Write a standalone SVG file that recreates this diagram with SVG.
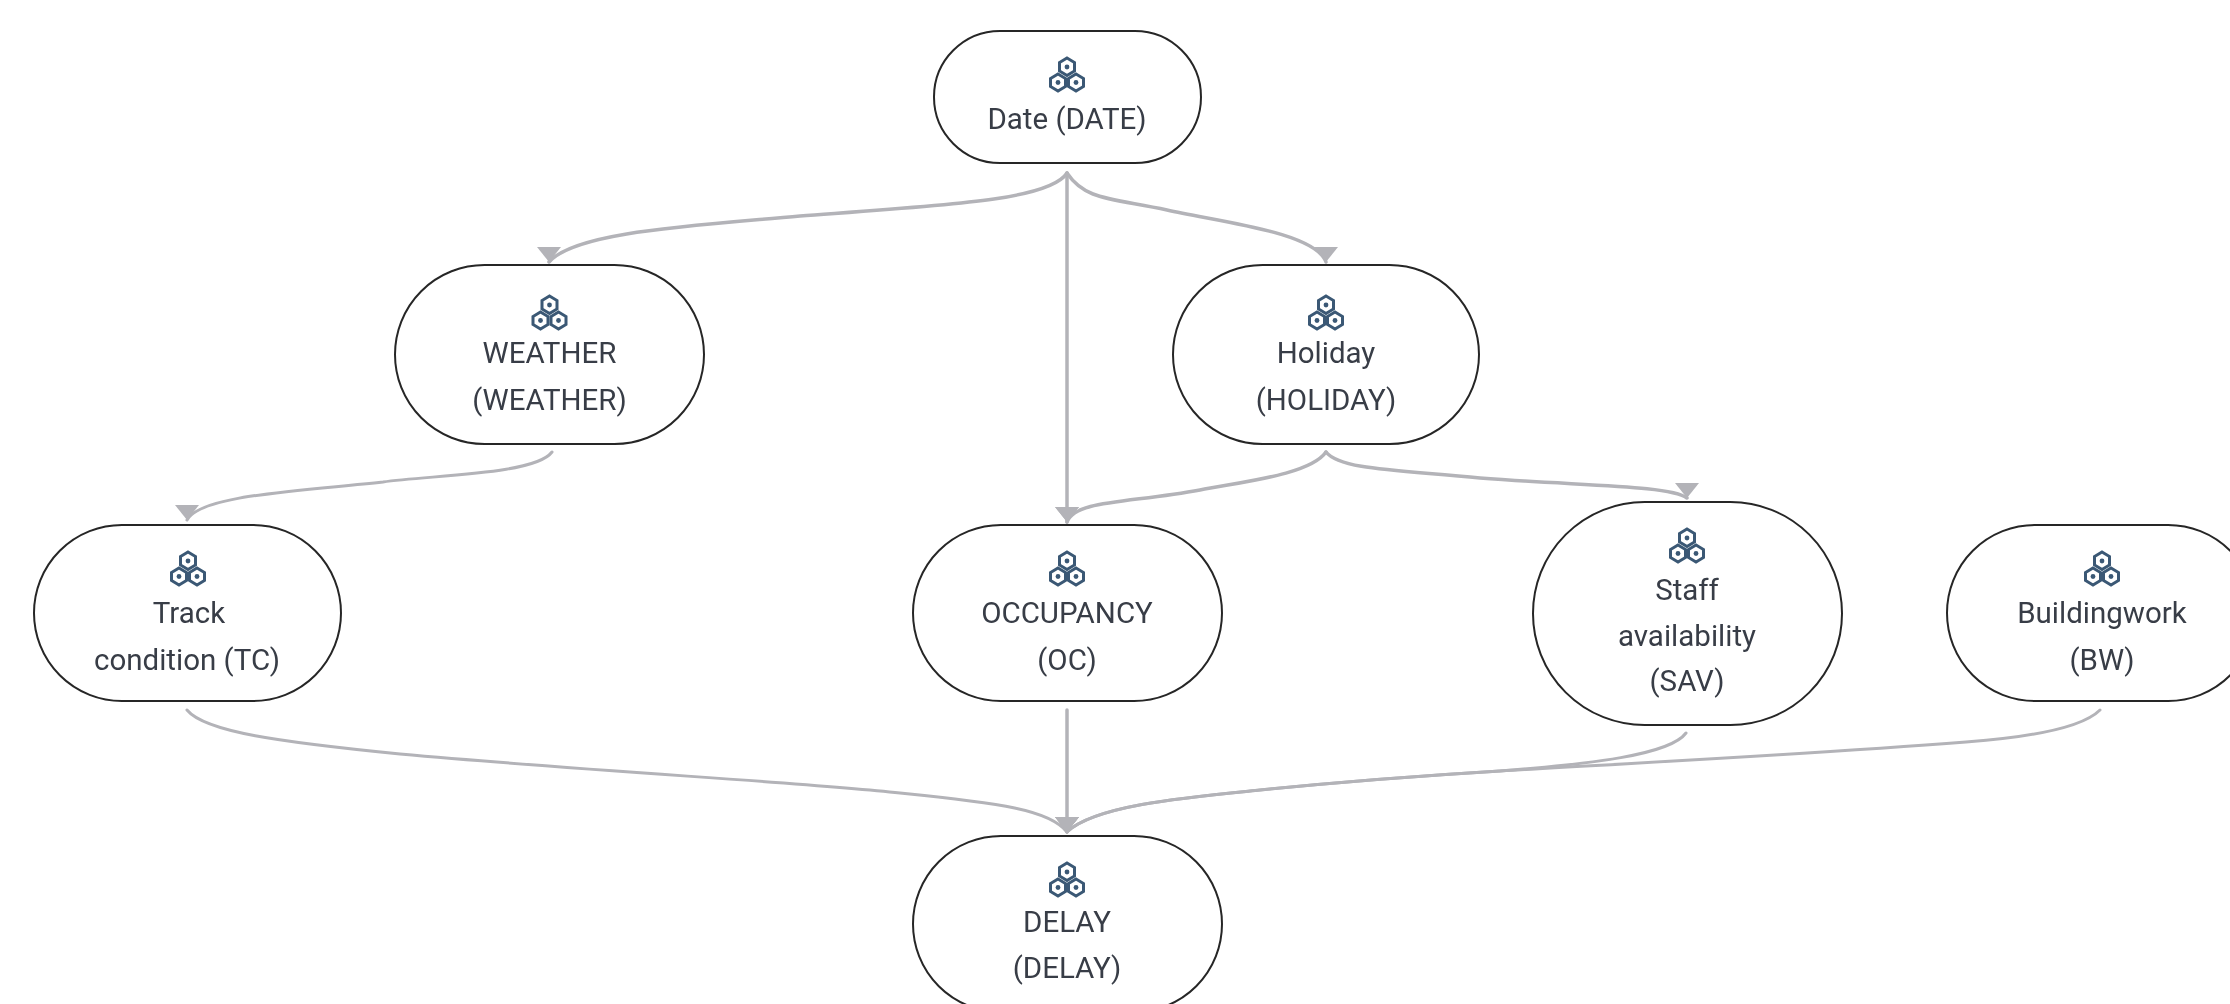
<svg xmlns="http://www.w3.org/2000/svg" width="2230" height="1004" viewBox="0 0 2230 1004">
<style>
.n{fill:#fff;stroke:#262626;stroke-width:2}
.t{font-family:Roboto,"Liberation Sans",sans-serif;font-size:29.5px;fill:#383d46;text-anchor:middle}
.e{fill:none;stroke:#b3b3b8;stroke-width:3.5;stroke-linecap:round}
.e2{stroke-width:3}
.i{fill:#fff;stroke:#3a5874;stroke-width:3}
.d{fill:#3a5874}
</style>
<defs>
<filter id="soft" x="0" y="0" width="2230" height="1004" filterUnits="userSpaceOnUse"><feGaussianBlur stdDeviation="0.7"/></filter>
<marker id="ah" markerUnits="userSpaceOnUse" markerWidth="17" markerHeight="28" refX="15" refY="13" orient="90"><polygon points="0,1 0,25 15,13" fill="#b3b3b8"/></marker>
<g id="ic">
<polygon class="i" points="0,-17 7.5,-12.5 7.5,-4 0,0.5 -7.5,-4 -7.5,-12.5"/><circle class="d" cx="0" cy="-8" r="2.4"/>
<polygon class="i" points="-9,-1 -1.5,3.5 -1.5,11.5 -9,16 -16.5,11.5 -16.5,3.5"/><circle class="d" cx="-9" cy="7.5" r="2.4"/>
<polygon class="i" points="9,-1 16.5,3.5 16.5,11.5 9,16 1.5,11.5 1.5,3.5"/><circle class="d" cx="9" cy="7.5" r="2.4"/>
</g>
</defs>
<rect width="2230" height="1004" fill="#fff"/>
<g filter="url(#soft)">
<g id="connectors">
<path class="e" marker-end="url(#ah)" d="M1067 173C1050 200 950 205 800 216C690 226 575 232 549 262"/>
<path class="e" marker-end="url(#ah)" d="M1067 173C1085 200 1110 198 1167 210C1220 222 1315 232 1326 262"/>
<path class="e" marker-end="url(#ah)" d="M1067 173V522"/>
<path class="e e2" marker-end="url(#ah)" d="M552 452C535 475 430 475 383 482C300 491 200 495 187 520"/>
<path class="e" marker-end="url(#ah)" d="M1326 452C1310 475 1240 482 1200 490C1130 503 1075 500 1067 522"/>
<path class="e" marker-end="url(#ah)" d="M1326 452C1340 470 1400 470 1480 478C1580 486 1670 485 1687 498"/>
<path class="e e2" marker-end="url(#ah)" d="M187 710C205 732 280 742 400 754C600 772 800 782 900 793C1000 803 1050 810 1067 832"/>
<path class="e" marker-end="url(#ah)" d="M1067 710V832"/>
<path class="e e2" marker-end="url(#ah)" d="M1686 733C1670 755 1590 764 1500 771C1400 777 1330 783 1260 790C1190 797 1095 805 1067 832"/>
<path class="e e2" marker-end="url(#ah)" d="M2100 710C2080 730 2020 738 1966 742C1800 755 1650 762 1500 771C1400 777 1330 783 1260 790C1190 797 1095 805 1067 832"/>
</g>
<g id="node-date"><rect class="n" x="934" y="31" width="267" height="132" rx="66"/><use href="#ic" x="1067" y="75"/><text class="t" x="1067" y="128.500">Date (DATE)</text></g>
<g id="node-weather"><rect class="n" x="395" y="265" width="309" height="179" rx="89.5"/><use href="#ic" x="549.5" y="313"/><text class="t" x="549.5" y="363">WEATHER</text><text class="t" x="549.5" y="410">(WEATHER)</text></g>
<g id="node-holiday"><rect class="n" x="1173" y="265" width="306" height="179" rx="89.5"/><use href="#ic" x="1326" y="313"/><text class="t" x="1326" y="363">Holiday</text><text class="t" x="1326" y="410">(HOLIDAY)</text></g>
<g id="node-tc"><rect class="n" x="34" y="525" width="307" height="176" rx="88"/><use href="#ic" x="188" y="569"/><text class="t" x="189" y="623">Track</text><text class="t" x="187" y="670">condition (TC)</text></g>
<g id="node-oc"><rect class="n" x="913" y="525" width="309" height="176" rx="88"/><use href="#ic" x="1067" y="569"/><text class="t" x="1067" y="623">OCCUPANCY</text><text class="t" x="1067" y="670">(OC)</text></g>
<g id="node-sav"><rect class="n" x="1533" y="502" width="309" height="223" rx="111.5"/><use href="#ic" x="1687" y="546"/><text class="t" x="1687" y="600">Staff</text><text class="t" x="1687" y="646">availability</text><text class="t" x="1687" y="691">(SAV)</text></g>
<g id="node-bw"><rect class="n" x="1947" y="525" width="309" height="176" rx="88"/><use href="#ic" x="2102" y="569"/><text class="t" x="2102" y="623">Buildingwork</text><text class="t" x="2102" y="670">(BW)</text></g>
<g id="node-delay"><rect class="n" x="913" y="836" width="309" height="176" rx="88"/><use href="#ic" x="1067" y="880"/><text class="t" x="1067" y="931.500">DELAY</text><text class="t" x="1067" y="978">(DELAY)</text></g>
</g>
</svg>
